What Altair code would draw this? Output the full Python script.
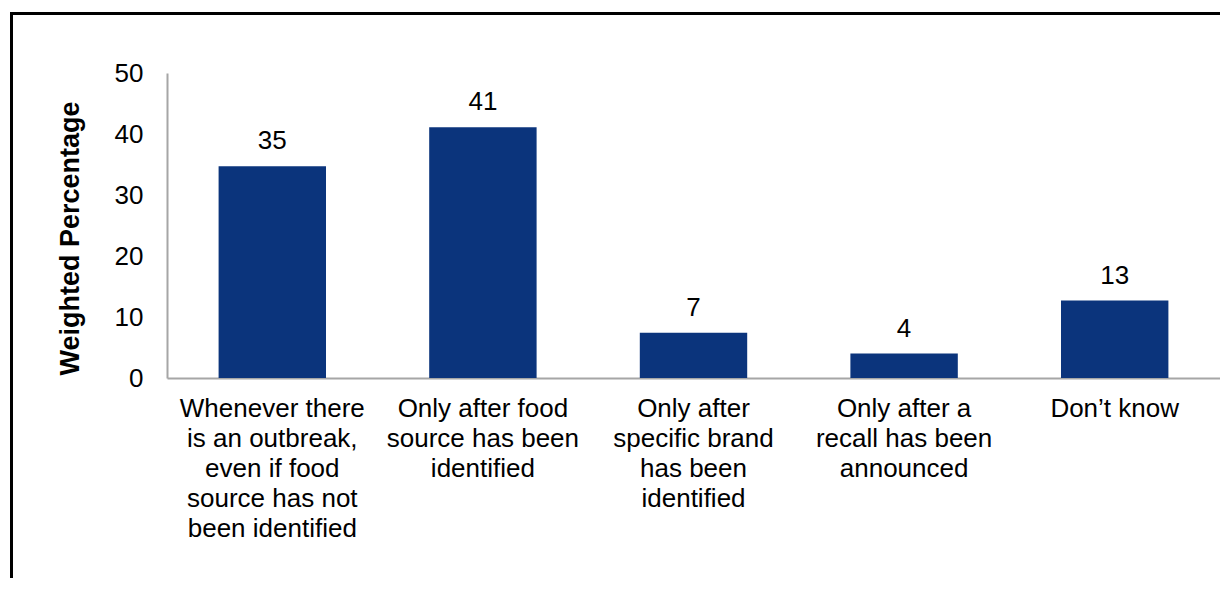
import altair as alt
import pandas as pd

categories = [
    "Whenever there|is an outbreak,|even if food|source has not|been identified",
    "Only after food|source has been|identified",
    "Only after|specific brand|has been|identified",
    "Only after a|recall has been|announced",
    "Don\u2019t know",
]
values = [34.7, 41.1, 7.4, 4.0, 12.7]
y_ticks = [0, 10, 20, 30, 40, 50]
y_title = "Weighted Percentage"

df = pd.DataFrame({"category": categories, "value": values})

FONT = "Liberation Sans"
W, H = 1053, 305

x_enc = alt.X(
    "category:N",
    sort=categories,
    title=None,
    scale=alt.Scale(paddingInner=0.49, paddingOuter=0.245),
    axis=alt.Axis(
        labelExpr="split(datum.label, '|')",
        labelAngle=0,
        labelAlign="center",
        labelBaseline="top",
        labelFontSize=26,
        labelLineHeight=30,
        labelPadding=17,
        labelLimit=500,
        labelOverlap=False,
        labelColor="#000000",
        labelFont=FONT,
        ticks=False,
        tickSize=0,
        domainColor="#A6A6A6",
        domainWidth=2,
        grid=False,
    ),
)

y_enc = alt.Y(
    "value:Q",
    scale=alt.Scale(domain=[0, 50], nice=False),
    axis=alt.Axis(
        values=y_ticks,
        title=y_title,
        titleFont=FONT,
        titleFontSize=27,
        titleFontWeight="bold",
        titleColor="#000000",
        titleAngle=270,
        titleAlign="center",
        titleBaseline="alphabetic",
        titleX=-89,
        titleY=165,
        labelFontSize=26,
        labelFont=FONT,
        labelColor="#000000",
        labelPadding=24,
        ticks=False,
        tickSize=0,
        domainColor="#A6A6A6",
        domainWidth=2,
        grid=False,
    ),
)

bars = alt.Chart(df).mark_bar(color="#0B347C").encode(x=x_enc, y=y_enc)

labels = alt.Chart(df).mark_text(
    font=FONT, fontSize=26, color="#000000", baseline="alphabetic", dy=-17
).encode(
    x=alt.X("category:N", sort=categories),
    y="value:Q",
    text=alt.Text("value:Q", format=".0f"),
)

frame_data = alt.Data(values=[{"k": 1}])
frame_top = alt.Chart(frame_data).mark_rule(color="#000000", strokeWidth=3).encode(
    x=alt.value(-157), x2=alt.value(1400), y=alt.value(-59.5)
)
frame_left = alt.Chart(frame_data).mark_rule(color="#000000", strokeWidth=3).encode(
    x=alt.value(-155.5), y=alt.value(-61), y2=alt.value(900)
)

chart = (
    alt.layer(bars, labels, frame_top, frame_left)
    .properties(
        width=W,
        height=H,
        autosize=alt.AutoSizeParams(type="none"),
        padding={"left": 159, "top": 65, "right": 0, "bottom": 200},
        background="white",
    )
    .configure_view(stroke=None)
)

chart.save("out.html", embed_options={"renderer": "svg", "actions": False})
